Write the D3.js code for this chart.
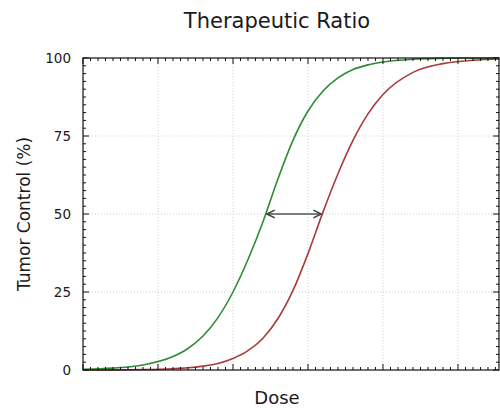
<!DOCTYPE html>
<html>
<head>
<meta charset="utf-8">
<script src="https://cdn.jsdelivr.net/npm/d3@7"></script>
<style>
  body { margin: 0; background: #fff; }
  text { font-family: "DejaVu Sans", sans-serif; fill: #1a1a1a; }
</style>
</head>
<body>
<svg id="chart" width="500" height="408"></svg>
<script>
// data
const dose = [0, 4, 8, 12, 14, 16, 18, 20, 22, 24, 26, 28, 30, 32, 34, 36, 38, 40, 44, 48, 52, 55.5];
const tumorControl = [0.2, 0.6, 1.6, 4.3, 6.9, 10.9, 16.8, 25, 35.4, 47.5, 61.3, 73.6, 83.0, 89.4, 93.6, 96.3, 97.8, 98.7, 99.6, 99.9, 100, 100];
const normalTissue = [0.02, 0.05, 0.14, 0.42, 0.7, 1.25, 2.1, 3.7, 6.2, 10.2, 16.5, 25.5, 37.3, 50.6, 62.9, 73.6, 82.1, 88.3, 95.4, 98.2, 99.3, 99.7];
const arrowDose = [24.4, 31.9];
const arrowLevel = 50;
const yTicks = [0, 25, 50, 75, 100];
const xMajor = [0, 10, 20, 30, 40, 50];

const margin = {top: 58, left: 83, right: 1, bottom: 38};
const width = 500 - margin.left - margin.right;
const height = 408 - margin.top - margin.bottom;

const svg = d3.select("#chart");
const g = svg.append("g").attr("transform", "translate(" + margin.left + "," + margin.top + ")");

const x = d3.scaleLinear().domain([0, 55.47]).range([0, width]);
const y = d3.scaleLinear().domain([0, 100]).range([height, 0]);

// grid
g.append("g").selectAll("line").data(xMajor.slice(1)).enter().append("line")
    .attr("x1", d => x(d)).attr("x2", d => x(d))
    .attr("y1", 0).attr("y2", height)
    .attr("stroke", "#cfcfcf").attr("stroke-dasharray", "1,2");
g.append("g").selectAll("line").data(yTicks.slice(1, -1)).enter().append("line")
    .attr("x1", 0).attr("x2", width)
    .attr("y1", d => y(d)).attr("y2", d => y(d))
    .attr("stroke", "#cfcfcf").attr("stroke-dasharray", "1,2");

// curves
const line = d3.line().curve(d3.curveMonotoneX);
g.append("path")
    .attr("d", line(dose.map((d, i) => [x(d), y(normalTissue[i])])))
    .attr("fill", "none").attr("stroke", "#a83a3a").attr("stroke-width", 1.6);
g.append("path")
    .attr("d", line(dose.map((d, i) => [x(d), y(tumorControl[i])])))
    .attr("fill", "none").attr("stroke", "#2e8b34").attr("stroke-width", 1.6);

// arrow
svg.append("defs").append("marker")
    .attr("id", "head").attr("viewBox", "0 0 10 10")
    .attr("refX", 9).attr("refY", 5)
    .attr("markerWidth", 7).attr("markerHeight", 7)
    .attr("orient", "auto-start-reverse")
  .append("path")
    .attr("d", "M1,1 L9,5 L1,9")
    .attr("fill", "none").attr("stroke", "#444").attr("stroke-width", 1.6);
g.append("line")
    .attr("x1", x(arrowDose[0]) + 1).attr("x2", x(arrowDose[1]) - 1)
    .attr("y1", y(arrowLevel)).attr("y2", y(arrowLevel))
    .attr("stroke", "#555").attr("stroke-width", 1.4)
    .attr("marker-start", "url(#head)").attr("marker-end", "url(#head)");

// frame
g.append("rect").attr("width", width).attr("height", height)
    .attr("fill", "none").attr("stroke", "#111").attr("stroke-width", 1.2);

// ticks on all four sides, pointing in
const xMinor = d3.range(0, 56, 1);
const yMinor = d3.range(0, 100.1, 2.5);
function tickLen(v, major) { return major.indexOf(v) >= 0 ? 6 : 3; }
const ticks = g.append("g").attr("stroke", "#111").attr("stroke-width", 1);
xMinor.forEach(v => {
    const l = tickLen(v, xMajor);
    ticks.append("line").attr("x1", x(v)).attr("x2", x(v)).attr("y1", height).attr("y2", height - l);
    ticks.append("line").attr("x1", x(v)).attr("x2", x(v)).attr("y1", 0).attr("y2", l);
});
yMinor.forEach(v => {
    const l = tickLen(v, yTicks);
    ticks.append("line").attr("x1", 0).attr("x2", l).attr("y1", y(v)).attr("y2", y(v));
    ticks.append("line").attr("x1", width).attr("x2", width - l).attr("y1", y(v)).attr("y2", y(v));
});

// y labels
g.append("g").selectAll("text").data(yTicks).enter().append("text")
    .attr("x", -12).attr("y", d => y(d)).attr("dy", "0.36em")
    .attr("text-anchor", "end").attr("font-size", 13.5)
    .text(d => d);

// titles
svg.append("text").attr("x", 277).attr("y", 28)
    .attr("text-anchor", "middle").attr("font-size", 21).text("Therapeutic Ratio");
svg.append("text").attr("x", 277).attr("y", 404)
    .attr("text-anchor", "middle").attr("font-size", 18).text("Dose");
svg.append("text")
    .attr("transform", "translate(30," + (margin.top + height / 2) + ") rotate(-90)")
    .attr("text-anchor", "middle").attr("font-size", 17).text("Tumor Control (%)");
</script>
</body>
</html>
